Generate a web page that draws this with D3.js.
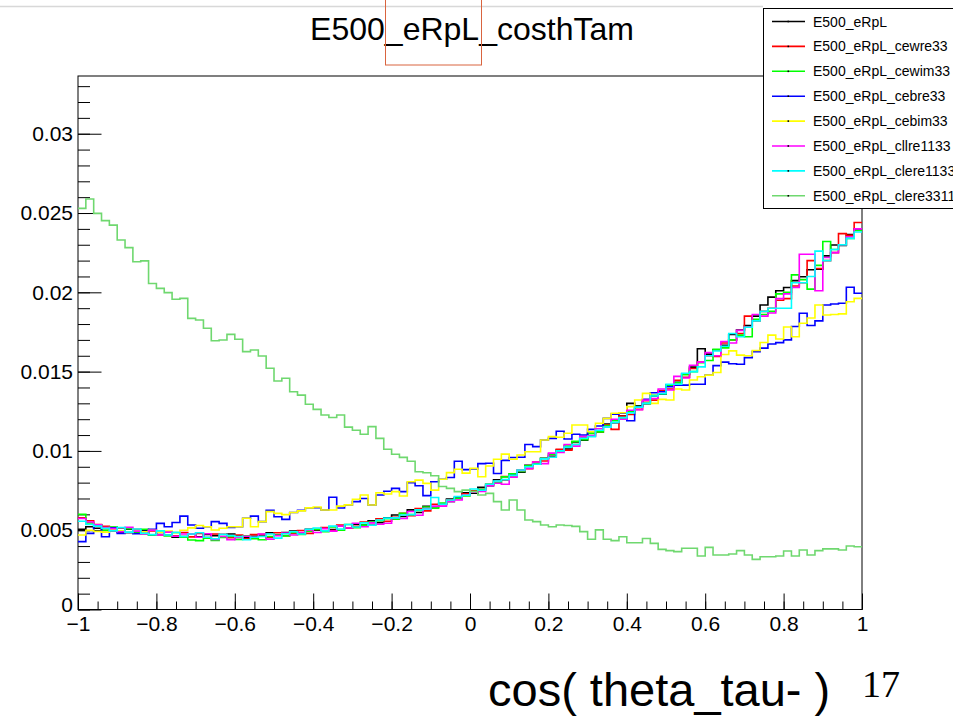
<!DOCTYPE html>
<html><head><meta charset="utf-8">
<script src="https://cdn.jsdelivr.net/npm/d3@7"></script>
<style>
body{margin:0;background:#fff;}
svg{display:block;font-family:"Liberation Sans",Arial,Helvetica,sans-serif;}
</style>
</head><body>
<svg id="c" width="953" height="717"></svg>
<script>
// ---- histogram binning ----
const xMin = -1, xMax = 1, nBins = 100;

// ---- series values (bin contents, 100 bins from -1 to 1) ----
const E500_eRpL = [0.00505,0.00522,0.00512,0.00498,0.00516,0.00488,0.00506,0.00482,0.00498,0.00470,
0.00486,0.00468,0.00456,0.00460,0.00478,0.00458,0.00474,0.00466,0.00456,0.00476,
0.00464,0.00452,0.00462,0.00470,0.00484,0.00470,0.00486,0.00494,0.00478,0.00506,
0.00500,0.00514,0.00504,0.00528,0.00512,0.00538,0.00532,0.00560,0.00548,0.00578,
0.00596,0.00586,0.00628,0.00612,0.00650,0.00648,0.00662,0.00696,0.00706,0.00736,
0.00734,0.00770,0.00780,0.00818,0.00818,0.00854,0.00866,0.00910,0.00916,0.00954,
0.00966,0.01006,0.01012,0.01056,0.01068,0.01110,0.01120,0.01170,0.01178,0.01222,
0.01300,0.01284,0.01298,0.01346,0.01358,0.01416,0.01432,0.01486,0.01528,0.01644,
0.01610,0.01638,0.01666,0.01734,0.01762,0.01790,0.01850,0.01920,0.01970,0.02010,
0.02030,0.02074,0.02098,0.02142,0.02146,0.02230,0.02298,0.02296,0.02364,0.02400];

const E500_eRpL_cewre33 = [0.00578,0.00560,0.00536,0.00524,0.00494,0.00512,0.00486,0.00506,0.00476,0.00496,
0.00470,0.00490,0.00464,0.00486,0.00458,0.00480,0.00454,0.00476,0.00474,0.00452,
0.00470,0.00446,0.00472,0.00474,0.00456,0.00484,0.00466,0.00480,0.00498,0.00480,
0.00504,0.00516,0.00498,0.00532,0.00512,0.00524,0.00552,0.00536,0.00572,0.00556,
0.00582,0.00606,0.00592,0.00636,0.00622,0.00664,0.00664,0.00692,0.00700,0.00730,
0.00748,0.00756,0.00790,0.00800,0.00838,0.00842,0.00880,0.00888,0.00930,0.00936,
0.00960,0.01010,0.01004,0.01040,0.01082,0.01094,0.01120,0.01164,0.01136,0.01220,
0.01230,0.01262,0.01316,0.01320,0.01380,0.01390,0.01446,0.01464,0.01520,0.01560,
0.01600,0.01596,0.01680,0.01700,0.01740,0.01850,0.01820,0.01880,0.01900,0.01950,
0.01960,0.02040,0.02060,0.02200,0.02150,0.02200,0.02250,0.02370,0.02360,0.02440];

const E500_eRpL_cewim33 = [0.00600,0.00546,0.00534,0.00500,0.00520,0.00494,0.00510,0.00482,0.00506,0.00470,
0.00490,0.00464,0.00486,0.00456,0.00438,0.00434,0.00450,0.00436,0.00454,0.00460,
0.00442,0.00464,0.00446,0.00440,0.00460,0.00470,0.00464,0.00486,0.00474,0.00494,
0.00504,0.00490,0.00520,0.00500,0.00536,0.00516,0.00532,0.00550,0.00560,0.00572,
0.00570,0.00606,0.00598,0.00624,0.00646,0.00638,0.00672,0.00680,0.00700,0.00716,
0.00744,0.00756,0.00790,0.00800,0.00836,0.00856,0.00870,0.00906,0.00920,0.00952,
0.00980,0.01000,0.01030,0.01060,0.01070,0.01112,0.01120,0.01160,0.01190,0.01206,
0.01250,0.01280,0.01300,0.01350,0.01360,0.01410,0.01430,0.01480,0.01500,0.01556,
0.01570,0.01640,0.01650,0.01700,0.01730,0.01720,0.01830,0.01860,0.01880,0.01990,
0.02000,0.02110,0.02080,0.02020,0.02170,0.02320,0.02270,0.02300,0.02340,0.02390];

const E500_eRpL_cebre33 = [0.00428,0.00480,0.00533,0.00459,0.00515,0.00480,0.00484,0.00478,0.00491,0.00505,
0.00543,0.00522,0.00549,0.00589,0.00533,0.00512,0.00522,0.00554,0.00543,0.00518,
0.00522,0.00575,0.00589,0.00554,0.00625,0.00585,0.00568,0.00612,0.00625,0.00640,
0.00642,0.00627,0.00708,0.00640,0.00659,0.00680,0.00700,0.00659,0.00722,0.00746,
0.00764,0.00743,0.00800,0.00780,0.00718,0.00806,0.00821,0.00832,0.00935,0.00882,
0.00887,0.00920,0.00922,0.00858,0.00940,0.00958,0.00960,0.01040,0.01027,0.01069,
0.01079,0.01124,0.01075,0.01105,0.01100,0.01136,0.01157,0.01205,0.01232,0.01237,
0.01190,0.01278,0.01325,0.01367,0.01373,0.01405,0.01415,0.01415,0.01420,0.01420,
0.01479,0.01538,0.01560,0.01550,0.01546,0.01588,0.01626,0.01648,0.01674,0.01683,
0.01700,0.01784,0.01868,0.01791,0.01820,0.01920,0.01926,0.01931,0.02032,0.01994];

const E500_eRpL_cebim33 = [0.00470,0.00500,0.00492,0.00488,0.00502,0.00494,0.00486,0.00498,0.00490,0.00500,
0.00488,0.00494,0.00484,0.00500,0.00515,0.00530,0.00522,0.00501,0.00512,0.00522,
0.00522,0.00575,0.00522,0.00554,0.00617,0.00606,0.00598,0.00612,0.00622,0.00641,
0.00646,0.00627,0.00627,0.00652,0.00660,0.00695,0.00722,0.00659,0.00736,0.00728,
0.00743,0.00716,0.00806,0.00816,0.00795,0.00753,0.00821,0.00863,0.00884,0.00860,
0.00890,0.00837,0.00905,0.00947,0.00980,0.00947,0.00974,0.00995,0.00995,0.01069,
0.01090,0.01086,0.01111,0.01163,0.01163,0.01121,0.01174,0.01205,0.01237,0.01241,
0.01279,0.01321,0.01363,0.01300,0.01325,0.01321,0.01390,0.01384,0.01447,0.01468,
0.01478,0.01494,0.01608,0.01631,0.01604,0.01600,0.01633,0.01684,0.01730,0.01706,
0.01781,0.01720,0.01805,0.01838,0.01920,0.01857,0.01860,0.01864,0.01941,0.01962];

const E500_eRpL_cllre1133 = [0.00574,0.00552,0.00534,0.00516,0.00510,0.00490,0.00518,0.00494,0.00476,0.00500,
0.00470,0.00488,0.00462,0.00476,0.00478,0.00456,0.00478,0.00442,0.00460,0.00440,
0.00454,0.00462,0.00456,0.00476,0.00444,0.00466,0.00482,0.00470,0.00486,0.00502,
0.00486,0.00510,0.00494,0.00526,0.00514,0.00544,0.00522,0.00546,0.00538,0.00544,
0.00578,0.00574,0.00618,0.00594,0.00636,0.00652,0.00652,0.00680,0.00690,0.00720,
0.00740,0.00744,0.00780,0.00796,0.00790,0.00834,0.00876,0.00890,0.00930,0.00920,
0.00986,0.00990,0.01040,0.01030,0.01090,0.01096,0.01140,0.01150,0.01200,0.01200,
0.01256,0.01260,0.01320,0.01330,0.01390,0.01384,0.01470,0.01460,0.01540,0.01560,
0.01620,0.01600,0.01690,0.01680,0.01760,0.01780,0.01860,0.01850,0.01870,0.01960,
0.01990,0.02030,0.02240,0.02240,0.02010,0.02220,0.02250,0.02300,0.02350,0.02400];

const E500_eRpL_clere1133 = [0.00556,0.00536,0.00526,0.00512,0.00496,0.00516,0.00488,0.00508,0.00480,0.00472,
0.00496,0.00470,0.00486,0.00460,0.00476,0.00484,0.00456,0.00446,0.00474,0.00466,
0.00460,0.00440,0.00456,0.00460,0.00476,0.00450,0.00478,0.00490,0.00476,0.00506,
0.00514,0.00496,0.00526,0.00508,0.00536,0.00520,0.00546,0.00532,0.00564,0.00576,
0.00578,0.00596,0.00598,0.00628,0.00634,0.00706,0.00664,0.00690,0.00712,0.00720,
0.00760,0.00752,0.00790,0.00810,0.00820,0.00846,0.00880,0.00900,0.00916,0.00950,
0.00960,0.01000,0.01024,0.01040,0.01080,0.01090,0.01130,0.01150,0.01180,0.01210,
0.01240,0.01276,0.01300,0.01346,0.01360,0.01420,0.01420,0.01490,0.01500,0.01530,
0.01600,0.01630,0.01660,0.01740,0.01720,0.01780,0.01820,0.01880,0.01900,0.01900,
0.01900,0.02060,0.02060,0.02100,0.02260,0.02200,0.02270,0.02300,0.02340,0.02380];

const E500_eRpL_clere3311 = [0.02529,0.02588,0.02498,0.02452,0.02424,0.02330,0.02282,0.02193,0.02198,0.02056,
0.02025,0.01998,0.01956,0.01962,0.01836,0.01825,0.01773,0.01695,0.01699,0.01735,
0.01704,0.01626,0.01636,0.01598,0.01521,0.01441,0.01458,0.01373,0.01352,0.01294,
0.01262,0.01226,0.01211,0.01226,0.01150,0.01130,0.01105,0.01153,0.01079,0.01010,
0.00979,0.00959,0.00935,0.00869,0.00862,0.00843,0.00776,0.00764,0.00743,0.00753,
0.00743,0.00722,0.00732,0.00680,0.00627,0.00690,0.00627,0.00564,0.00554,0.00533,
0.00522,0.00533,0.00530,0.00524,0.00491,0.00443,0.00502,0.00443,0.00434,0.00459,
0.00421,0.00421,0.00448,0.00417,0.00379,0.00371,0.00365,0.00386,0.00386,0.00337,
0.00392,0.00344,0.00344,0.00350,0.00371,0.00344,0.00316,0.00333,0.00333,0.00337,
0.00369,0.00337,0.00375,0.00344,0.00371,0.00382,0.00382,0.00375,0.00400,0.00396];

const seriesNames = ["E500_eRpL","E500_eRpL_cewre33","E500_eRpL_cewim33","E500_eRpL_cebre33",
  "E500_eRpL_cebim33","E500_eRpL_cllre1133","E500_eRpL_clere1133","E500_eRpL_clere3311"];
const seriesValues = [E500_eRpL,E500_eRpL_cewre33,E500_eRpL_cewim33,E500_eRpL_cebre33,
  E500_eRpL_cebim33,E500_eRpL_cllre1133,E500_eRpL_clere1133,E500_eRpL_clere3311];
const seriesColors = ["#000000","#ff0000","#00ff00","#0000ff","#ffff00","#ff00ff","#00ffff","#6fd86f"];

const yTicks = [0,0.005,0.01,0.015,0.02,0.025,0.03];
const yTickLabels = ["0","0.005","0.01","0.015","0.02","0.025","0.03"];
const xTicks = [-1,-0.8,-0.6,-0.4,-0.2,0,0.2,0.4,0.6,0.8,1];
const xTickLabels = ["\u22121","\u22120.8","\u22120.6","\u22120.4","\u22120.2","0","0.2","0.4","0.6","0.8","1"];
const titleText = "E500_eRpL_costhTam";
const xAxisTitle = "cos( theta_tau- )";
const pageNumber = "17";

// ---- layout ----
const svg = d3.select("#c");
const F = {l:78, t:76, r:862, b:609.5};
const x = d3.scaleLinear().domain([xMin,xMax]).range([F.l,F.r]);
const y = d3.scaleLinear().domain([0,0.03364]).range([F.b,F.t]);

// slide decoration line
svg.append("line").attr("x1",0).attr("x2",763).attr("y1",6.5).attr("y2",6.5)
  .attr("stroke","#d8d8d8").attr("stroke-width",1.5);

// frame
svg.append("rect").attr("x",F.l).attr("y",F.t).attr("width",F.r-F.l).attr("height",F.b-F.t)
  .attr("fill","none").attr("stroke","#000").attr("stroke-width",1);

// y axis
const yMinor = d3.range(0,0.0336,0.001).map(v=>+v.toFixed(3));
svg.append("g").attr("transform",`translate(${F.l},0)`)
  .call(d3.axisLeft(y).tickValues(yMinor).tickSizeInner(-12).tickSizeOuter(0).tickFormat(""))
  .call(g=>g.select(".domain").remove())
  .call(g=>g.selectAll("line").attr("stroke","#000"));
svg.append("g").attr("transform",`translate(${F.l},0)`)
  .call(d3.axisLeft(y).tickValues(yTicks).tickSizeInner(-23.5).tickSizeOuter(0).tickPadding(5)
    .tickFormat((d,i)=>yTickLabels[i]))
  .call(g=>g.select(".domain").remove())
  .call(g=>g.selectAll("line").attr("stroke","#000"))
  .call(g=>g.selectAll("text").attr("font-size",21).attr("fill","#000")
    .attr("font-family","'Liberation Sans',Arial,sans-serif"))
  .call(g=>g.selectAll(".tick").filter(d=>d===0).select("text").attr("dy","0.1em"));

// x axis
const xMinor = d3.range(-1,1.001,0.05).map(v=>+v.toFixed(2));
svg.append("g").attr("transform",`translate(0,${F.b})`)
  .call(d3.axisBottom(x).tickValues(xMinor).tickSizeInner(-8).tickSizeOuter(0).tickFormat(""))
  .call(g=>g.select(".domain").remove())
  .call(g=>g.selectAll("line").attr("stroke","#000"));
svg.append("g").attr("transform",`translate(0,${F.b})`)
  .call(d3.axisBottom(x).tickValues(xTicks).tickSizeInner(-16).tickSizeOuter(0).tickPadding(7)
    .tickFormat((d,i)=>xTickLabels[i]))
  .call(g=>g.select(".domain").remove())
  .call(g=>g.selectAll("line").attr("stroke","#000"))
  .call(g=>g.selectAll("text").attr("font-size",21).attr("fill","#000")
    .attr("font-family","'Liberation Sans',Arial,sans-serif"));

// histograms
svg.append("clipPath").attr("id","clip").append("rect")
  .attr("x",F.l).attr("y",F.t).attr("width",F.r-F.l).attr("height",F.b-F.t);
const binW = (xMax-xMin)/nBins;
const line = d3.line().x(d=>x(d[0])).y(d=>y(d[1])).curve(d3.curveStepAfter);
const gH = svg.append("g").attr("clip-path","url(#clip)");
seriesValues.forEach((vals,si)=>{
  const pts = vals.map((v,i)=>[xMin+i*binW, v]);
  pts.push([xMax, vals[vals.length-1]]);
  gH.append("path").attr("d",line(pts)).attr("fill","none")
    .attr("stroke",seriesColors[si]).attr("stroke-width",1.6);
});

// title
svg.append("text").attr("x",472).attr("y",40).attr("text-anchor","middle")
  .attr("font-size",32).attr("fill","#000").text(titleText);
// annotation box over title
svg.append("rect").attr("x",385.5).attr("y",-2).attr("width",96).attr("height",67)
  .attr("fill","none").attr("stroke","#d9643f").attr("stroke-width",1);

// legend
const lg = svg.append("g");
lg.append("rect").attr("x",763.5).attr("y",8.5).attr("width",200).attr("height",200)
  .attr("fill","#fff").attr("stroke","#000").attr("stroke-width",1);
seriesNames.forEach((n,i)=>{
  const cy = 21.5 + i*24.9;
  lg.append("line").attr("x1",772).attr("x2",805).attr("y1",cy).attr("y2",cy)
    .attr("stroke",seriesColors[i]).attr("stroke-width",1.6);
  lg.append("rect").attr("x",787.5).attr("y",cy-0.8).attr("width",1.6).attr("height",1.6).attr("fill","#000");
  lg.append("text").attr("x",813).attr("y",cy+5).attr("font-size",14).attr("fill","#000").text(n);
});

// x-axis title and page number
svg.append("text").attr("x",488).attr("y",706).attr("font-size",47).attr("fill","#000").text(xAxisTitle);
svg.append("text").attr("x",862).attr("y",697).attr("font-size",38).attr("fill","#000")
  .attr("font-family","'Liberation Serif','Times New Roman',serif").text(pageNumber);
</script>
</body></html>
